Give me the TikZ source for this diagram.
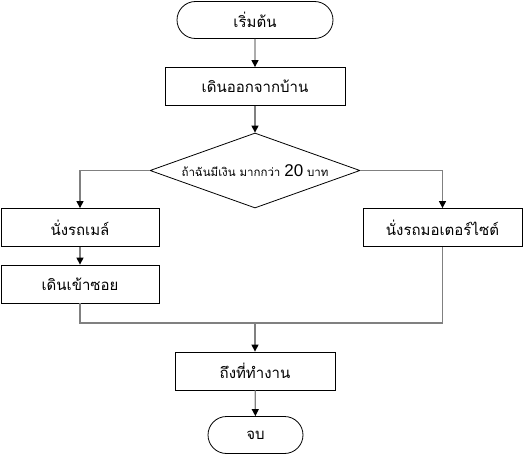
\documentclass[tikz,border=0pt]{standalone}
\usepackage{fontspec}
\setmainfont{Liberation Sans}
\newfontfamily\thaifont[Script=Thai]{Loma}
\usetikzlibrary{shapes.geometric,shapes.misc,arrows.meta}
\begin{document}
\begin{tikzpicture}[
			x=1pt, y=-1pt,
			every node/.style={font=\thaifont\fontsize{15}{17}\selectfont, inner sep=0pt},
			terminal/.style={rounded rectangle, draw, line width=0.8pt, minimum height=37pt},
			box/.style={rectangle, draw, line width=0.8pt, minimum height=38pt},
			decision/.style={diamond, draw, line width=0.8pt, aspect=2.8, minimum width=210pt, minimum height=75pt},
			link/.style={draw=gray, line width=1.2pt, -{Triangle[black, length=7pt, width=7pt]}},
			plain/.style={draw=gray, line width=1.2pt}
		]
		\useasboundingbox (0,0) rectangle (523,455);
		\node[terminal, minimum width=156pt] (start) at (255,20) {เริ่มต้น};
		\node[box, minimum width=180pt] (leave) at (255,86.5) {เดินออกจากบ้าน};
		\node[decision] (money) at (255,170.5) {\fontsize{11.5}{13}\selectfont ถ้าฉันมีเงิน มากกว่า {\rmfamily\fontsize{17}{17}\selectfont 20} บาท};
		\node[box, minimum width=158pt] (bus) at (80,227.5) {นั่งรถเมล์};
		\node[box, minimum width=158pt] (soi) at (80,284) {เดินเข้าซอย};
		\node[box, minimum width=159pt] (moto) at (442.5,227.5) {นั่งรถมอเตอร์ไซต์};
		\coordinate (join) at (255,323);
		\node[box, minimum width=160pt] (work) at (255,371) {ถึงที่ทำงาน};
		\node[terminal, minimum width=95pt] (stop) at (255.5,435) {จบ};
		\draw[link] (start) -- (leave);
		\draw[link] (leave) -- (money);
		\draw[link] (money.west) -| (bus.north);
		\draw[link] (money.east) -| (moto.north);
		\draw[link] (bus) -- (soi);
		\draw[plain] (soi.south) |- (join) -| (moto.south);
		\draw[link] (join) -- (work);
		\draw[link] (work) -- (stop);
	\end{tikzpicture}
\end{document}
